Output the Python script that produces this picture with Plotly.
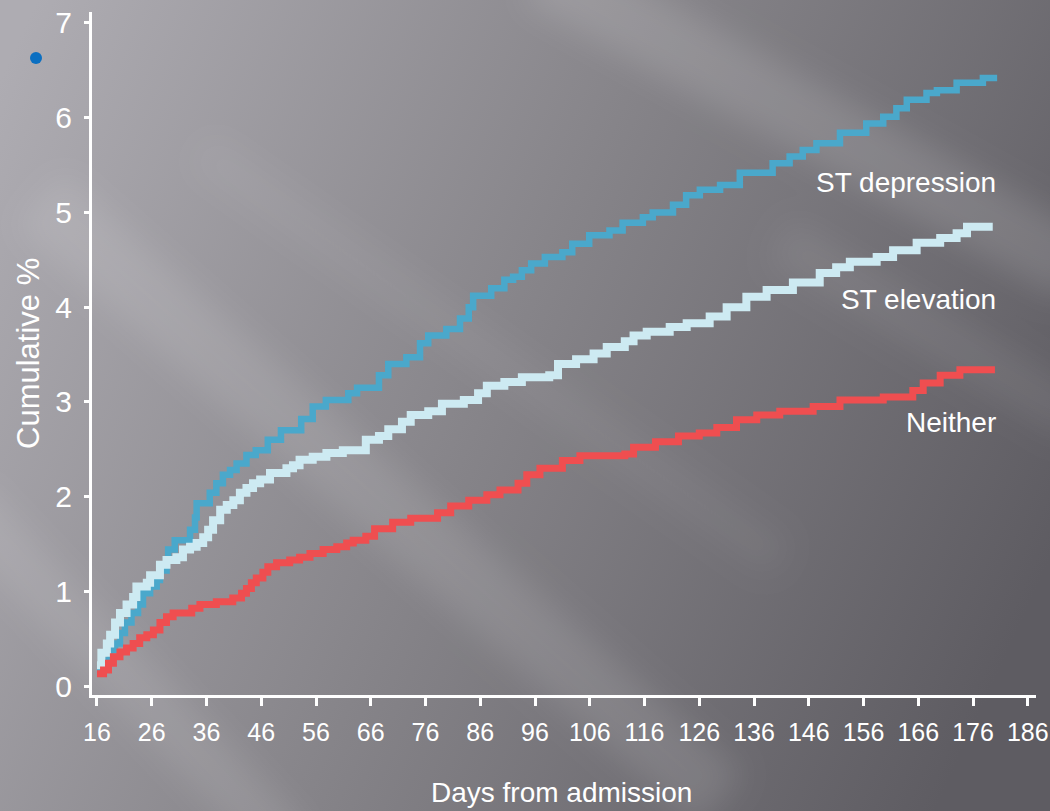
import base64
import plotly.graph_objects as go

# Cumulative event curves (Kaplan-Meier style step functions), days from admission vs cumulative %
dep_days = [16, 17.2, 18.4, 19.3, 20.2, 21.1, 22.3, 23.5, 24.4, 25.7, 26.9, 27.5, 28.7, 29.0, 30.2,
            33.0, 33.9, 34.2, 36.6, 37.8, 39.0, 40.3, 41.5, 43.3, 45.0, 47.2, 49.6, 53.3, 55.4, 57.8,
            61.9, 63.5, 67.5, 69.2, 72.5, 75.0, 76.5, 79.8, 82.3, 83.9, 84.7, 88.0, 90.4, 92.0, 93.6,
            95.3, 97.8, 101.0, 102.8, 105.9, 109.6, 112.0, 115.7, 117.5, 121.2, 123.6, 126.1, 129.8,
            133.4, 139.4, 142.5, 144.9, 147.4, 151.7, 156.5, 159.6, 162.0, 163.9, 167.5, 169.4, 173.0,
            177.8, 180.4]
dep_vals = [0.17, 0.27, 0.38, 0.45, 0.56, 0.67, 0.77, 0.86, 0.98, 1.05, 1.12, 1.22, 1.33, 1.44, 1.54,
            1.65, 1.78, 1.93, 2.04, 2.14, 2.23, 2.28, 2.35, 2.44, 2.49, 2.60, 2.70, 2.82, 2.95, 3.02,
            3.09, 3.15, 3.28, 3.40, 3.47, 3.62, 3.70, 3.77, 3.88, 4.00, 4.12, 4.20, 4.29, 4.32, 4.39,
            4.46, 4.53, 4.58, 4.67, 4.76, 4.81, 4.89, 4.95, 5.00, 5.08, 5.18, 5.24, 5.29,
            5.42, 5.52, 5.59, 5.66, 5.73, 5.84, 5.94, 6.01, 6.10, 6.19, 6.26, 6.29, 6.37,
            6.42, 6.42]

elev_days = [16, 16.8, 17.8, 18.4, 19.3, 20.2, 21.4, 22.6, 23.2, 25.1, 25.7, 27.5, 28.7, 30.5, 31.7,
             33.0, 34.2, 35.4, 36.3, 37.2, 38.5, 39.7, 40.9, 42.1, 43.3, 44.5, 45.8, 47.6, 50.6, 51.8,
             53.0, 55.4, 57.9, 60.9, 65.1, 67.5, 69.2, 71.7, 73.3, 76.5, 79.0, 83.0, 85.6, 87.2, 90.4,
             93.6, 98.6, 100.2, 103.5, 106.7, 109.1, 112.4, 114.0, 116.4, 120.6, 123.7, 127.9, 131.0,
             134.6, 138.3, 143.1, 148.0, 151.0, 153.5, 158.4, 161.4, 165.7, 170.0, 173.0, 174.9, 179.6]
elev_vals = [0.22, 0.35, 0.45, 0.54, 0.67, 0.77, 0.86, 0.94, 1.05, 1.09, 1.17, 1.28, 1.33, 1.36, 1.44,
             1.47, 1.51, 1.57, 1.65, 1.75, 1.86, 1.91, 1.96, 2.04, 2.09, 2.14, 2.18, 2.25, 2.30, 2.33,
             2.39, 2.42, 2.46, 2.49, 2.60, 2.64, 2.71, 2.79, 2.86, 2.90, 2.98, 3.02, 3.09, 3.17, 3.21,
             3.26, 3.28, 3.40, 3.45, 3.51, 3.58, 3.64, 3.70, 3.74, 3.79, 3.83, 3.90, 4.00,
             4.11, 4.18, 4.26, 4.36, 4.42, 4.48, 4.53, 4.60, 4.68, 4.73, 4.78, 4.85, 4.85]

neither_days = [16, 17.2, 18.1, 19.0, 20.2, 21.4, 22.6, 23.8, 25.1, 26.3, 27.5, 28.7, 29.9, 33.3, 34.8,
                37.8, 40.8, 42.4, 43.3, 44.2, 45.1, 46.3, 47.2, 48.8, 51.2, 53.0, 54.9, 57.3, 59.8, 61.6,
                62.8, 65.1, 66.7, 70.0, 73.3, 78.2, 80.6, 83.9, 87.2, 89.6, 92.9, 94.5, 96.9, 101.0,
                104.2, 112.4, 114.0, 118.0, 122.2, 126.0, 129.2, 132.8, 136.5, 140.7, 146.8, 151.7,
                159.6, 165.0, 166.9, 170.0, 173.6, 180.0]
neither_vals = [0.13, 0.17, 0.24, 0.31, 0.36, 0.40, 0.45, 0.51, 0.54, 0.59, 0.67, 0.73, 0.77, 0.82, 0.86,
                0.89, 0.93, 0.98, 1.03, 1.09, 1.14, 1.20, 1.26, 1.30, 1.33, 1.36, 1.40, 1.44, 1.47, 1.51,
                1.54, 1.58, 1.66, 1.73, 1.77, 1.83, 1.90, 1.96, 2.02, 2.07, 2.14, 2.23, 2.30, 2.38,
                2.43, 2.45, 2.52, 2.58, 2.64, 2.67, 2.73, 2.81, 2.86, 2.90, 2.95, 3.02,
                3.05, 3.12, 3.20, 3.28, 3.34, 3.34]

x_ticks = list(range(16, 187, 10))
y_ticks = list(range(0, 8))

series_labels = ["ST depression", "ST elevation", "Neither"]
label_y = [5.32, 4.08, 2.78]

W, H = 1050, 811
ML, MR, MT, MB = 92, 14, 12, 116
PW, PH = W - ML - MR, H - MT - MB

FONT = "Liberation Sans Narrow, Arial Narrow, Liberation Sans, Arial, sans-serif"
REGULAR = "Liberation Sans, Arial, Helvetica, sans-serif"

# Slide-style backdrop: grey gradient with soft diagonal light streaks
svg = f"""<svg xmlns='http://www.w3.org/2000/svg' width='{W}' height='{H}' viewBox='0 0 {W} {H}' preserveAspectRatio='none'>
<defs>
<linearGradient id='g' x1='0' y1='80' x2='1050' y2='560' gradientUnits='userSpaceOnUse'>
<stop offset='0' stop-color='#aeacb2'/>
<stop offset='0.5' stop-color='#868489'/>
<stop offset='1' stop-color='#5e5c62'/>
</linearGradient>
<filter id='b' x='-50%' y='-50%' width='200%' height='200%'><feGaussianBlur stdDeviation='16'/></filter>
</defs>
<rect x='-10' y='-10' width='{W + 20}' height='{H + 20}' fill='url(#g)'/>
<g filter='url(#b)' stroke='#ffffff' fill='none'>
<line x1='540' y1='-30' x2='1080' y2='270' stroke-width='70' stroke-opacity='0.13'/>
<line x1='40' y1='200' x2='720' y2='800' stroke-width='70' stroke-opacity='0.11'/>
<line x1='-40' y1='500' x2='290' y2='850' stroke-width='55' stroke-opacity='0.10'/>
<line x1='780' y1='240' x2='1080' y2='420' stroke-width='50' stroke-opacity='0.07'/>
<line x1='200' y1='150' x2='780' y2='560' stroke-width='40' stroke-opacity='0.05'/>
</g>
</svg>"""
bg_uri = "data:image/svg+xml;base64," + base64.b64encode(svg.encode()).decode()

fig = go.Figure()
fig.add_trace(go.Scatter(x=dep_days, y=dep_vals, mode="lines", line_shape="hv",
                         line=dict(color="#4aa8cb", width=6.5), name=series_labels[0]))
fig.add_trace(go.Scatter(x=elev_days, y=elev_vals, mode="lines", line_shape="hv",
                         line=dict(color="#cdeaf2", width=8), name=series_labels[1]))
fig.add_trace(go.Scatter(x=neither_days, y=neither_vals, mode="lines", line_shape="hv",
                         line=dict(color="#ef4e50", width=7), name=series_labels[2]))

annotations = []
for text, yv in zip(series_labels, label_y):
    annotations.append(dict(x=180.6, y=yv, xref="x", yref="y", text=text, showarrow=False,
                            xanchor="right", yanchor="middle",
                            font=dict(family=FONT, size=28, color="white")))
annotations.append(dict(x=(561 - ML) / PW, y=-(810 - (MT + PH)) / PH, xref="paper", yref="paper",
                        text="Days from admission", showarrow=False, xanchor="center", yanchor="bottom",
                        font=dict(family=FONT, size=28, color="white")))
annotations.append(dict(x=(28 - ML) / PW, y=(MT + PH - 354) / PH, xref="paper", yref="paper",
                        text="Cumulative %", showarrow=False, textangle=-90,
                        xanchor="center", yanchor="middle",
                        font=dict(family=REGULAR, size=31, color="white")))

fig.update_layout(
    width=W, height=H,
    margin=dict(l=ML, r=MR, t=MT, b=MB, pad=0, autoexpand=False),
    paper_bgcolor="#8a888e",
    plot_bgcolor="rgba(0,0,0,0)",
    showlegend=False,
    annotations=annotations,
    images=[dict(source=bg_uri, xref="paper", yref="paper",
                 x=-ML / PW, y=1 + MT / PH, sizex=W / PW, sizey=H / PH,
                 xanchor="left", yanchor="top", sizing="stretch", layer="below")],
    shapes=[dict(type="circle", xref="paper", yref="paper",
                 x0=(30 - ML) / PW, x1=(42 - ML) / PW,
                 y0=(MT + PH - 64) / PH, y1=(MT + PH - 52) / PH,
                 fillcolor="#0b6fc1", line=dict(width=0))],
    xaxis=dict(range=[15.09, 187.5], tickvals=x_ticks, ticktext=[str(v) for v in x_ticks],
               ticks="outside", ticklen=8, tickwidth=3, tickcolor="white",
               showline=True, linecolor="white", linewidth=3, showgrid=False, zeroline=False,
               tickfont=dict(family=FONT, size=25, color="white"), ticklabelstandoff=5,
               ticklabeloverflow="allow", automargin=False),
    yaxis=dict(range=[-0.095, 7.116], tickvals=y_ticks, ticktext=[str(v) for v in y_ticks],
               ticks="outside", ticklen=5, tickwidth=2.5, tickcolor="white",
               showline=True, linecolor="white", linewidth=3, showgrid=False, zeroline=False,
               tickfont=dict(family=FONT, size=30, color="white"), ticklabelstandoff=6,
               automargin=False),
)

fig.write_html("out.html")
